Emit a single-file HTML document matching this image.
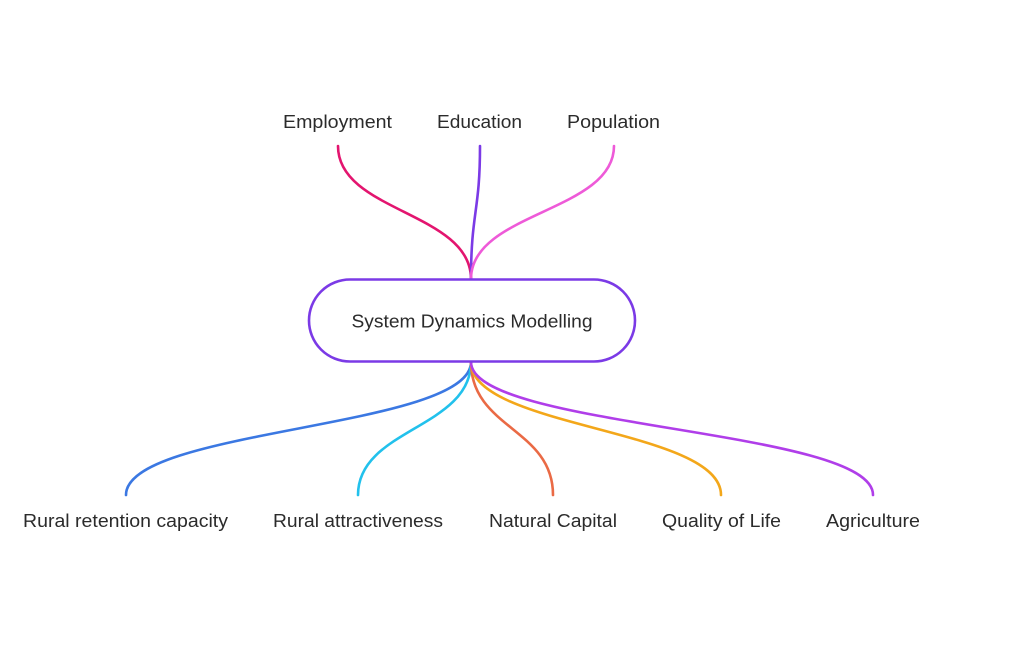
<!DOCTYPE html>
<html>
<head>
<meta charset="utf-8">
<style>
  html,body{margin:0;padding:0;background:#fff;}
  svg{display:block;}
  text{font-family:"Liberation Sans",sans-serif;fill:#2b2b2b;}
</style>
</head>
<body>
<svg width="1024" height="664" viewBox="0 0 1024 664" xmlns="http://www.w3.org/2000/svg">
  <rect width="1024" height="664" fill="#ffffff"/>
  <g fill="none" stroke-width="2.6" stroke-linecap="round">
    <!-- top connectors -->
    <path d="M338,146 C338,212 471,212 471,279" stroke="#e3156f"/>
    <path d="M480,146 C480,212 471,212 471,279" stroke="#7b3ae6"/>
    <path d="M614,146 C614,212 471,212 471,279" stroke="#ee5ad8"/>
    <!-- bottom connectors -->
    <path d="M471,362 C471,428.5 126,428.5 126,495" stroke="#3b78e2"/>
    <path d="M471,362 C471,428.5 358,428.5 358,495" stroke="#22c1ec"/>
    <path d="M471,362 C471,428.5 553,428.5 553,495" stroke="#ea6a45"/>
    <path d="M471,362 C471,428.5 721,428.5 721,495" stroke="#f3a71a"/>
    <path d="M471,362 C471,428.5 873,428.5 873,495" stroke="#b03ee9"/>
  </g>
  <rect x="309" y="279.5" width="326" height="82" rx="41" ry="41" fill="#ffffff" stroke="#7b3ae6" stroke-width="2.6"/>

  <g font-size="18" text-anchor="middle">
    <text x="337.5" y="128" textLength="109" lengthAdjust="spacingAndGlyphs">Employment</text>
    <text x="479.5" y="128" textLength="85" lengthAdjust="spacingAndGlyphs">Education</text>
    <text x="613.5" y="128" textLength="93" lengthAdjust="spacingAndGlyphs">Population</text>

    <text x="125.5" y="527" textLength="205" lengthAdjust="spacingAndGlyphs">Rural retention capacity</text>
    <text x="358" y="527" textLength="170" lengthAdjust="spacingAndGlyphs">Rural attractiveness</text>
    <text x="553" y="527" textLength="128" lengthAdjust="spacingAndGlyphs">Natural Capital</text>
    <text x="721.5" y="527" textLength="119" lengthAdjust="spacingAndGlyphs">Quality of Life</text>
    <text x="873" y="527" textLength="94" lengthAdjust="spacingAndGlyphs">Agriculture</text>
  </g>
  <text x="472" y="327.5" font-size="18" text-anchor="middle" textLength="241" lengthAdjust="spacingAndGlyphs">System Dynamics Modelling</text>
</svg>
</body>
</html>
